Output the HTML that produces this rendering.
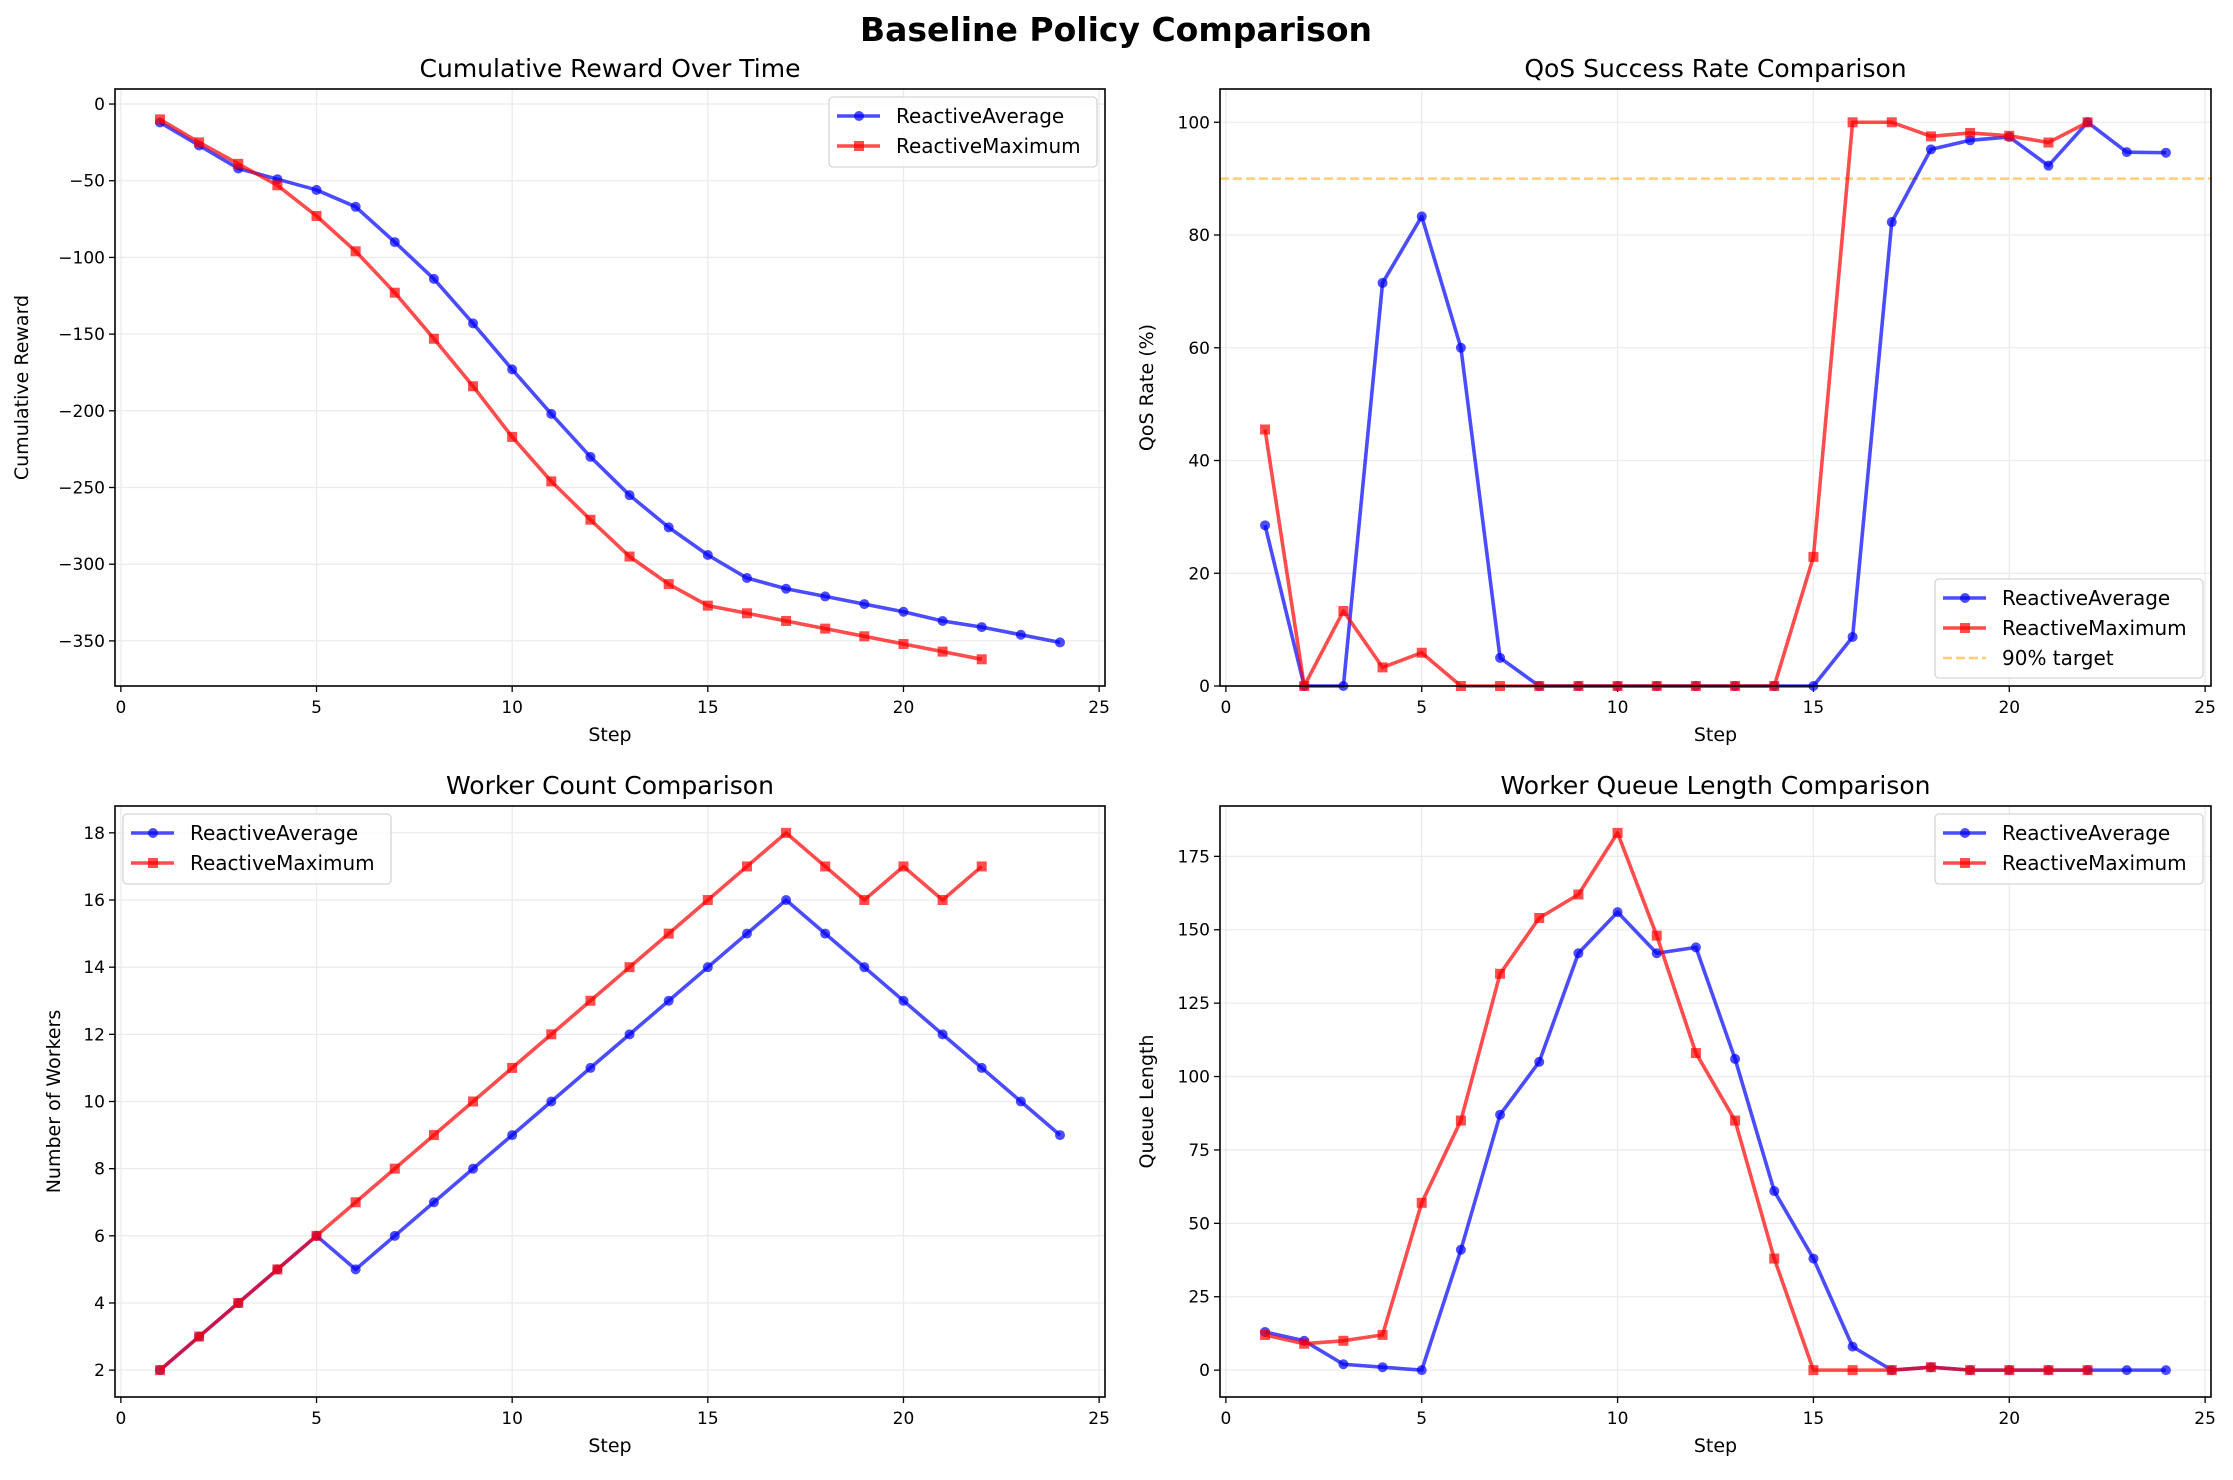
<!DOCTYPE html>
<html><head><meta charset="utf-8"><style>
body{margin:0;background:#fff}
svg text{font-family:"DejaVu Sans","Liberation Sans",sans-serif;fill:#000}
</style></head><body>
<svg id="fig" width="2233" height="1475" xmlns="http://www.w3.org/2000/svg">
<rect width="2233" height="1475" fill="#fff"/>
<text x="1116" y="41" text-anchor="middle" font-size="33" font-weight="bold">Baseline Policy Comparison</text>
</svg>
<script>
const stepsAvg=[1,2,3,4,5,6,7,8,9,10,11,12,13,14,15,16,17,18,19,20,21,22,23,24];
const stepsMax=[1,2,3,4,5,6,7,8,9,10,11,12,13,14,15,16,17,18,19,20,21,22];
const rewardAvg=[-12,-27,-42,-49,-56,-67,-90,-114,-143,-173,-202,-230,-255,-276,-294,-309,-316,-321,-326,-331,-337,-341,-346,-351];
const rewardMax=[-10,-25,-39,-53,-73,-96,-123,-153,-184,-217,-246,-271,-295,-313,-327,-332,-337,-342,-347,-352,-357,-362];
const qosAvg=[28.5,0,0,71.5,83.3,60,5,0,0,0,0,0,0,0,0,8.7,82.3,95.2,96.8,97.4,92.3,100,94.7,94.6];
const qosMax=[45.5,0,13.3,3.3,5.9,0,0,0,0,0,0,0,0,0,22.9,100,100,97.5,98.1,97.6,96.4,100];
const workersAvg=[2,3,4,5,6,5,6,7,8,9,10,11,12,13,14,15,16,15,14,13,12,11,10,9];
const workersMax=[2,3,4,5,6,7,8,9,10,11,12,13,14,15,16,17,18,17,16,17,16,17];
const queueAvg=[13,10,2,1,0,41,87,105,142,156,142,144,106,61,38,8,0,1,0,0,0,0,0,0];
const queueMax=[12,9,10,12,57,85,135,154,162,183,148,108,85,38,0,0,0,1,0,0,0,0];
const xTicks=[0,5,10,15,20,25];
const rewardTicks=[0,-50,-100,-150,-200,-250,-300,-350];
const qosTicks=[0,20,40,60,80,100];
const workerTicks=[2,4,6,8,10,12,14,16,18];
const queueTicks=[0,25,50,75,100,125,150,175];
const qosTarget=90;

const NS="http://www.w3.org/2000/svg";
const svg=document.getElementById('fig');
function mk(tag,attrs,parent){const e=document.createElementNS(NS,tag);for(const k in attrs)e.setAttribute(k,attrs[k]);(parent||svg).appendChild(e);return e;}
const BLUE="rgba(0,0,255,0.7)",RED="rgba(255,0,0,0.7)";

function panel(cfg){
  const g=mk('g',{});
  
  
  const L=cfg.L,R=cfg.R,T=cfg.T,B=cfg.B;
  const xs=v=>L+(v-cfg.xmin)/(cfg.xmax-cfg.xmin)*(R-L);
  const ys=v=>B-(v-cfg.ymin)/(cfg.ymax-cfg.ymin)*(B-T);
  xTicks.forEach(t=>{const l=mk('line',{x1:xs(t),x2:xs(t),y1:T,y2:B,stroke:'#ebebeb','stroke-width':1.3},g);
    });
  cfg.yt.forEach(t=>{const l=mk('line',{x1:L,x2:R,y1:ys(t),y2:ys(t),stroke:'#ebebeb','stroke-width':1.3},g);
    });
  if(cfg.target!==undefined){const l=mk('line',{x1:L,x2:R,y1:ys(cfg.target),y2:ys(cfg.target),stroke:'orange','stroke-opacity':0.55,'stroke-width':2.5,'stroke-dasharray':'9,4'},g);
    }
  xTicks.forEach(t=>{mk('line',{x1:xs(t),x2:xs(t),y1:B,y2:B+6,stroke:'#000','stroke-width':1.3},g);
    const tx=mk('text',{x:xs(t),y:B+27,'text-anchor':'middle','font-size':17},g);tx.textContent=t;
    });
  cfg.yt.forEach(t=>{mk('line',{x1:L-6,x2:L,y1:ys(t),y2:ys(t),stroke:'#000','stroke-width':1.3},g);
    const tx=mk('text',{x:L-10,y:ys(t)+6,'text-anchor':'end','font-size':17},g);tx.textContent=String(t).replace('-','\u2212');
    });
  function series(xsArr,ysArr,color,marker,nm){
    const pts=xsArr.map((x,i)=>xs(x)+','+ys(ysArr[i])).join(' ');
    const pl=mk('polyline',{points:pts,fill:'none',stroke:color,'stroke-width':3.6,'stroke-linejoin':'round'},g);
    
    xsArr.forEach((x,i)=>{let m;
      if(marker==='o')m=mk('circle',{cx:xs(x),cy:ys(ysArr[i]),r:5,fill:color},g);
      else m=mk('rect',{x:xs(x)-5,y:ys(ysArr[i])-5,width:10,height:10,fill:color},g);
      });
  }
  series(stepsAvg,cfg.a,BLUE,'o','reactive-average');
  series(stepsMax,cfg.m,RED,'s','reactive-maximum');
  mk('rect',{x:L,y:T,width:R-L,height:B-T,fill:'none',stroke:'#000','stroke-width':1.6},g);
  const tt=mk('text',{x:(L+R)/2,y:T-12,'text-anchor':'middle','font-size':25},g);tt.textContent=cfg.title;
  
  const xl=mk('text',{x:(L+R)/2,y:B+55,'text-anchor':'middle','font-size':19},g);xl.textContent='Step';
  
  const yl=mk('text',{x:0,y:0,'text-anchor':'middle','font-size':19,transform:`translate(${cfg.ylx},${(T+B)/2}) rotate(-90)`},g);yl.textContent=cfg.ylabel;
  
  const n=cfg.target!==undefined?3:2;
  const lw=268,lh=n===3?99:70;
  const lx=cfg.leg[0]==='l'?L+8:R-8-lw;
  const ly=cfg.leg[1]==='t'?T+8:B-8-lh;
  const lg=mk('g',{},g);
  mk('rect',{x:lx,y:ly,width:lw,height:lh,rx:4,fill:'rgba(255,255,255,0.8)',stroke:'#d5d5d5','stroke-width':1.3},lg);
  const ent=[['ReactiveAverage',BLUE,'o'],['ReactiveMaximum',RED,'s']];
  if(n===3)ent.push(['90% target','orange','d']);
  ent.forEach((e,i)=>{const cy=ly+19+i*30;
    if(e[2]==='d')mk('line',{x1:lx+8,x2:lx+51,y1:cy,y2:cy,stroke:'orange','stroke-opacity':0.55,'stroke-width':2.5,'stroke-dasharray':'9,4'},lg);
    else{mk('line',{x1:lx+8,x2:lx+51,y1:cy,y2:cy,stroke:e[1],'stroke-width':3.6},lg);
      if(e[2]==='o')mk('circle',{cx:lx+30,cy:cy,r:5,fill:e[1]},lg);else mk('rect',{x:lx+25,y:cy-5,width:10,height:10,fill:e[1]},lg);}
    const t=mk('text',{x:lx+67,y:cy+7,'font-size':20},lg);t.textContent=e[0];
    });
}
panel({name:'cumulative-reward-chart',L:115,R:1105,T:89,B:686,xmin:-0.15,xmax:25.15,ymin:-379.4,ymax:9.8,yt:rewardTicks,a:rewardAvg,m:rewardMax,title:'Cumulative Reward Over Time',ylabel:'Cumulative Reward',ylx:28,leg:'rt'});
panel({name:'qos-success-chart',L:1220,R:2211,T:89,B:686,xmin:-0.15,xmax:25.15,ymin:0,ymax:105.9,yt:qosTicks,a:qosAvg,m:qosMax,target:qosTarget,title:'QoS Success Rate Comparison',ylabel:'QoS Rate (%)',ylx:1153,leg:'rb'});
panel({name:'worker-count-chart',L:115,R:1105,T:806,B:1397,xmin:-0.15,xmax:25.15,ymin:1.2,ymax:18.8,yt:workerTicks,a:workersAvg,m:workersMax,title:'Worker Count Comparison',ylabel:'Number of Workers',ylx:60,leg:'lt'});
panel({name:'queue-length-chart',L:1220,R:2211,T:806,B:1397,xmin:-0.15,xmax:25.15,ymin:-9.15,ymax:192.15,yt:queueTicks,a:queueAvg,m:queueMax,title:'Worker Queue Length Comparison',ylabel:'Queue Length',ylx:1153,leg:'rt'});
</script>
</body></html>
